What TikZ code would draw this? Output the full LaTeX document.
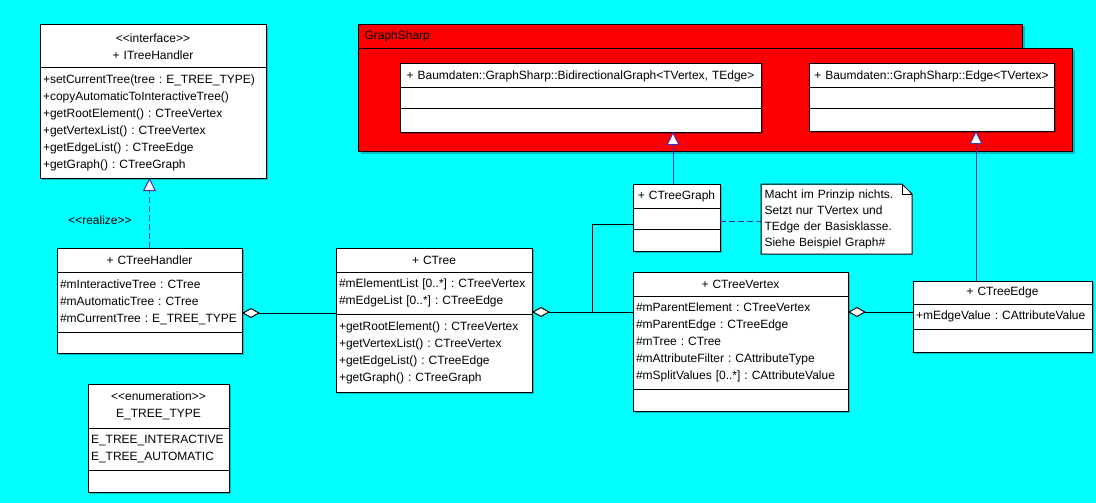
\documentclass[tikz,border=0pt]{standalone}
\usepackage{fontspec}
\setmainfont{Liberation Sans}
\usetikzlibrary{arrows.meta,positioning,shadows}
\definecolor{bgcyan}{RGB}{0,255,255}
\definecolor{pkgred}{RGB}{255,0,0}
\definecolor{relblue}{RGB}{72,48,176}

\tikzset{
  umltext/.style={font=\fontsize{12}{17}\selectfont},
  boxshadow/.style={general shadow={fill=black, opacity=.25, shadow xshift=2pt, shadow yshift=-2pt}},
  umlhead/.style={draw, fill=white, umltext, boxshadow, align=center, text width=#1,
    inner xsep=3pt, inner ysep=0pt, outer sep=0pt, anchor=north west},
  umlpart/.style={draw, fill=white, umltext, boxshadow, align=left, text width=#1,
    inner xsep=3pt, inner ysep=0pt, outer sep=0pt},
  aggr/.style={draw, -{Diamond[length=18pt, width=10pt, fill=white]}},
  gen/.style={draw=relblue, -{Triangle[length=13pt, width=13pt, fill=white]}},
  realize/.style={gen, dash pattern=on 6pt off 3pt},
}

\begin{document}
\frenchspacing
\begin{tikzpicture}[x=1pt, y=-1pt, line width=1pt]
\useasboundingbox (0,0) rectangle (1096,503);
\fill[bgcyan] (0,0) rectangle (1096,503);

% package GraphSharp
\node[draw, fill=pkgred, boxshadow, umltext, anchor=north west, align=left, text width=652pt,
  inner xsep=6pt, inner ysep=0pt, minimum height=24pt] (pkgtab) at (358,24) {GraphSharp};
\node[draw, fill=pkgred, boxshadow, anchor=north west, inner sep=0pt,
  minimum width=714pt, minimum height=103pt] (pkgbody) at (358,48) {};

% BidirectionalGraph
\node[umlhead=355pt, minimum height=24pt] (bhead) at (400,64) {+ Baumdaten::GraphSharp::BidirectionalGraph<TVertex, TEdge>};
\node[umlpart=355pt, minimum height=21pt, below=0pt of bhead] (battr) {};
\node[umlpart=355pt, minimum height=23pt, below=0pt of battr] (bmeth) {};

% Edge
\node[umlhead=239pt, minimum height=24pt] (edhead) at (809,64) {+ Baumdaten::GraphSharp::Edge<TVertex>};
\node[umlpart=239pt, minimum height=21pt, below=0pt of edhead] (edattr) {};
\node[umlpart=239pt, minimum height=22pt, below=0pt of edattr] (edmeth) {};

% ITreeHandler
\node[umlhead=220pt, minimum height=43pt] (ihead) at (40,25) {{<}{<}interface{>}{>}\\+ ITreeHandler};
\node[umlpart=220pt, minimum height=110pt, below=0pt of ihead] (imeth) {+setCurrentTree(tree : E\_TREE\_TYPE)\\+copyAutomaticToInteractiveTree()\\+getRootElement() : CTreeVertex\\+getVertexList() : CTreeVertex\\+getEdgeList() : CTreeEdge\\+getGraph() : CTreeGraph};

% CTreeHandler
\node[umlhead=179pt, minimum height=24pt] (hhead) at (57,248) {+ CTreeHandler};
\node[umlpart=179pt, minimum height=60pt, below=0pt of hhead] (hattr) {\#mInteractiveTree : CTree\\\#mAutomaticTree : CTree\\\#mCurrentTree : E\_TREE\_TYPE};
\node[umlpart=179pt, minimum height=21pt, below=0pt of hattr] (hmeth) {};

% E_TREE_TYPE
\node[umlhead=135pt, minimum height=44pt] (ttype) at (88,384) {{<}{<}enumeration{>}{>}\\E\_TREE\_TYPE};
\node[umlpart=135pt, minimum height=42pt, below=0pt of ttype] (tlits) {E\_TREE\_INTERACTIVE\\E\_TREE\_AUTOMATIC};
\node[umlpart=135pt, minimum height=22pt, below=0pt of tlits] (tmore) {};

% CTree
\node[umlhead=190pt, minimum height=24pt] (thead) at (336,248) {+ CTree};
\node[umlpart=190pt, minimum height=42pt, below=0pt of thead] (tattr) {\#mElementList [0..*] : CTreeVertex\\\#mEdgeList [0..*] : CTreeEdge};
\node[umlpart=190pt, minimum height=78pt, below=0pt of tattr] (tmeth) {+getRootElement() : CTreeVertex\\+getVertexList() : CTreeVertex\\+getEdgeList() : CTreeEdge\\+getGraph() : CTreeGraph};

% CTreeGraph
\node[umlhead=81pt, minimum height=24pt] (ghead) at (633,184) {+ CTreeGraph};
\node[umlpart=81pt, minimum height=21pt, below=0pt of ghead] (gattr) {};
\node[umlpart=81pt, minimum height=22pt, below=0pt of gattr] (gmeth) {};

% CTreeVertex
\node[umlhead=209pt, minimum height=24pt] (vhead) at (633,272) {+ CTreeVertex};
\node[umlpart=209pt, minimum height=93pt, below=0pt of vhead] (vattr) {\#mParentElement : CTreeVertex\\\#mParentEdge : CTreeEdge\\\#mTree : CTree\\\#mAttributeFilter : CAttributeType\\\#mSplitValues [0..*] : CAttributeValue};
\node[umlpart=209pt, minimum height=22pt, below=0pt of vattr] (vmeth) {};

% CTreeEdge
\node[umlhead=173pt, minimum height=23pt] (ehead) at (913,281) {+ CTreeEdge};
\node[umlpart=173pt, minimum height=25pt, below=0pt of ehead] (eattr) {+mEdgeValue : CAttributeValue};
\node[umlpart=173pt, minimum height=23pt, below=0pt of eattr] (emeth) {};

% note
\node[fill=white, anchor=north west, align=left, text width=144pt, inner xsep=3pt, inner ysep=0pt,
  minimum height=69pt, font=\fontsize{12}{16}\selectfont] (note) at (761,184)
  {Macht im Prinzip nichts.\\Setzt nur TVertex und\\TEdge der Basisklasse.\\Siehe Beispiel Graph\#};
\fill[bgcyan] ([xshift=-10pt]note.north east) -- (note.north east) -- ([yshift=-10pt]note.north east) -- cycle;
\draw (note.north west) -- ([xshift=-10pt]note.north east) -- ([yshift=-10pt]note.north east)
  -- (note.south east) -- (note.south west) -- cycle;
\draw ([xshift=-10pt]note.north east) |- ([yshift=-10pt]note.north east);

% realization and generalizations
\draw[realize] (hhead.north) -- (hhead.north |- imeth.south)
  node[pos=.39, left=14pt, umltext] {{<}{<}realize{>}{>}};
\coordinate (gup) at ([xshift=-3.5pt]ghead.north);
\draw[gen] (gup) -- (gup |- bmeth.south);
\coordinate (eup) at ([xshift=-26.5pt]ehead.north);
\draw[gen] (eup) -- (eup |- edmeth.south);
\draw[relblue, dash pattern=on 6pt off 3pt] ([yshift=-13pt]gattr.north east) -- ([yshift=-13pt]gattr.north east -| note.west);

% aggregations
\coordinate (hpt) at ([yshift=-41pt]hattr.north east);
\draw[aggr] (hpt -| tattr.west) -- (hpt);
\coordinate (tpt) at ([yshift=-40pt]tattr.north east);
\draw[aggr] (tpt -| vattr.west) -- (tpt);
\coordinate (tjoin) at ([xshift=60pt]tpt);
\draw ([yshift=-16pt]gattr.north west) -| (tjoin);
\coordinate (vpt) at ([yshift=-16pt]vattr.north east);
\draw[aggr] (vpt -| eattr.west) -- (vpt);
\end{tikzpicture}
\end{document}
